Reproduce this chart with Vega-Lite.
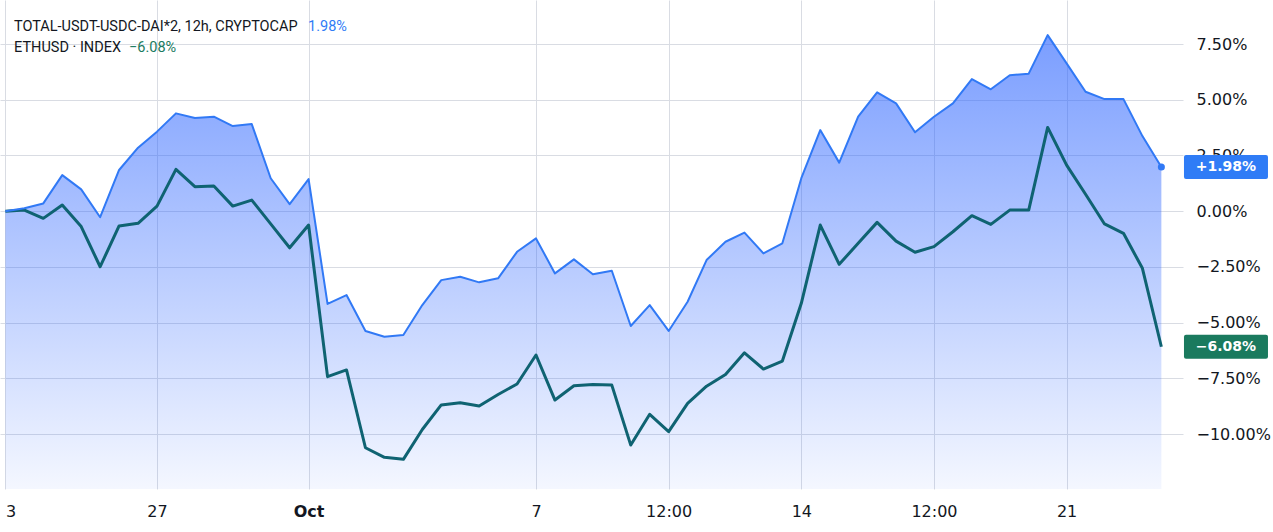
{
  "$schema": "https://vega.github.io/schema/vega-lite/v6.json",
  "width": 1183,
  "height": 489,
  "autosize": {"type": "none"},
  "padding": {"left": 0, "top": 0, "right": 90, "bottom": 43},
  "background": "white",
  "config": {"view": {"stroke": null}, "font": "DejaVu Sans"},
  "datasets": {
    "series": [
      {"t": "2023-09-23T00:00", "total": 0.0, "eth": 0.0},
      {"t": "2023-09-23T12:00", "total": 0.13, "eth": 0.05},
      {"t": "2023-09-24T00:00", "total": 0.35, "eth": -0.32},
      {"t": "2023-09-24T12:00", "total": 1.62, "eth": 0.28},
      {"t": "2023-09-25T00:00", "total": 0.98, "eth": -0.69},
      {"t": "2023-09-25T12:00", "total": -0.27, "eth": -2.49},
      {"t": "2023-09-26T00:00", "total": 1.85, "eth": -0.66},
      {"t": "2023-09-26T12:00", "total": 2.85, "eth": -0.54},
      {"t": "2023-09-27T00:00", "total": 3.57, "eth": 0.23},
      {"t": "2023-09-27T12:00", "total": 4.39, "eth": 1.88},
      {"t": "2023-09-28T00:00", "total": 4.18, "eth": 1.1},
      {"t": "2023-09-28T12:00", "total": 4.24, "eth": 1.13},
      {"t": "2023-09-29T00:00", "total": 3.82, "eth": 0.23},
      {"t": "2023-09-29T12:00", "total": 3.91, "eth": 0.5},
      {"t": "2023-09-30T00:00", "total": 1.48, "eth": -0.57},
      {"t": "2023-09-30T12:00", "total": 0.32, "eth": -1.64},
      {"t": "2023-10-01T00:00", "total": 1.44, "eth": -0.62},
      {"t": "2023-10-01T12:00", "total": -4.16, "eth": -7.42},
      {"t": "2023-10-02T00:00", "total": -3.76, "eth": -7.12},
      {"t": "2023-10-02T12:00", "total": -5.37, "eth": -10.61},
      {"t": "2023-10-03T00:00", "total": -5.63, "eth": -11.04},
      {"t": "2023-10-03T12:00", "total": -5.55, "eth": -11.13},
      {"t": "2023-10-04T00:00", "total": -4.21, "eth": -9.79},
      {"t": "2023-10-04T12:00", "total": -3.09, "eth": -8.69},
      {"t": "2023-10-05T00:00", "total": -2.94, "eth": -8.59},
      {"t": "2023-10-05T12:00", "total": -3.19, "eth": -8.74},
      {"t": "2023-10-06T00:00", "total": -3.01, "eth": -8.22},
      {"t": "2023-10-06T12:00", "total": -1.82, "eth": -7.75},
      {"t": "2023-10-07T00:00", "total": -1.22, "eth": -6.45},
      {"t": "2023-10-07T12:00", "total": -2.79, "eth": -8.47},
      {"t": "2023-10-08T00:00", "total": -2.16, "eth": -7.83},
      {"t": "2023-10-08T12:00", "total": -2.83, "eth": -7.77},
      {"t": "2023-10-09T00:00", "total": -2.67, "eth": -7.8},
      {"t": "2023-10-09T12:00", "total": -5.15, "eth": -10.49},
      {"t": "2023-10-10T00:00", "total": -4.21, "eth": -9.11},
      {"t": "2023-10-10T12:00", "total": -5.37, "eth": -9.89},
      {"t": "2023-10-11T00:00", "total": -4.06, "eth": -8.62},
      {"t": "2023-10-11T12:00", "total": -2.19, "eth": -7.85},
      {"t": "2023-10-12T00:00", "total": -1.37, "eth": -7.32},
      {"t": "2023-10-12T12:00", "total": -0.96, "eth": -6.35},
      {"t": "2023-10-13T00:00", "total": -1.89, "eth": -7.08},
      {"t": "2023-10-13T12:00", "total": -1.44, "eth": -6.72},
      {"t": "2023-10-14T00:00", "total": 1.48, "eth": -4.13},
      {"t": "2023-10-14T12:00", "total": 3.64, "eth": -0.62},
      {"t": "2023-10-15T00:00", "total": 2.18, "eth": -2.38},
      {"t": "2023-10-15T12:00", "total": 4.24, "eth": -1.44},
      {"t": "2023-10-16T00:00", "total": 5.33, "eth": -0.5},
      {"t": "2023-10-16T12:00", "total": 4.84, "eth": -1.34},
      {"t": "2023-10-17T00:00", "total": 3.54, "eth": -1.84},
      {"t": "2023-10-17T12:00", "total": 4.24, "eth": -1.59},
      {"t": "2023-10-18T00:00", "total": 4.84, "eth": -0.92},
      {"t": "2023-10-18T12:00", "total": 5.93, "eth": -0.2},
      {"t": "2023-10-19T00:00", "total": 5.47, "eth": -0.59},
      {"t": "2023-10-19T12:00", "total": 6.1, "eth": 0.05},
      {"t": "2023-10-20T00:00", "total": 6.17, "eth": 0.05},
      {"t": "2023-10-20T12:00", "total": 7.9, "eth": 3.76},
      {"t": "2023-10-21T00:00", "total": 6.63, "eth": 2.07},
      {"t": "2023-10-21T12:00", "total": 5.36, "eth": 0.76},
      {"t": "2023-10-22T00:00", "total": 5.03, "eth": -0.57},
      {"t": "2023-10-22T12:00", "total": 5.03, "eth": -0.99},
      {"t": "2023-10-23T00:00", "total": 3.37, "eth": -2.56},
      {"t": "2023-10-23T12:00", "total": 1.98, "eth": -6.08}
    ],
    "legendNames": [
      {"t": "2023-09-23T05:27", "v": 8.1, "label": "TOTAL-USDT-USDC-DAI*2, 12h, CRYPTOCAP"},
      {"t": "2023-09-23T05:27", "v": 7.156, "label": "ETHUSD · INDEX"}
    ],
    "legendValues": [
      {"t": "2023-09-30T23:38", "v": 8.1, "name": "TOTAL", "label": "1.98%"},
      {"t": "2023-09-26T06:18", "v": 7.156, "name": "ETH", "label": "−6.08%"}
    ],
    "tags": [
      {"name": "TOTAL", "v": 1.98, "label": "+1.98%"},
      {"name": "ETH", "v": -6.08, "label": "−6.08%"}
    ]
  },
  "layer": [
    {
      "data": {"name": "series"},
      "mark": {
        "type": "area",
        "color": {
          "gradient": "linear",
          "x1": 0, "y1": 0, "x2": 0, "y2": 1,
          "stops": [
            {"offset": 0, "color": "rgba(41,98,255,0.62)"},
            {"offset": 1, "color": "rgba(41,98,255,0.05)"}
          ]
        }
      },
      "encoding": {
        "x": {
          "field": "t", "type": "temporal",
          "scale": {
            "domain": [
              {"year": 2023, "month": 9, "date": 22, "hours": 20, "minutes": 35},
              {"year": 2023, "month": 10, "date": 24, "hours": 1, "minutes": 42}
            ]
          },
          "axis": {
            "title": null,
            "values": [
              {"year": 2023, "month": 9, "date": 23},
              {"year": 2023, "month": 9, "date": 27},
              {"year": 2023, "month": 10, "date": 1},
              {"year": 2023, "month": 10, "date": 7},
              {"year": 2023, "month": 10, "date": 10, "hours": 12},
              {"year": 2023, "month": 10, "date": 14},
              {"year": 2023, "month": 10, "date": 17, "hours": 12},
              {"year": 2023, "month": 10, "date": 21}
            ],
            "labelExpr": "hours(datum.value) == 12 ? '12:00' : (date(datum.value) == 1 ? 'Oct' : (date(datum.value) == 23 ? '3' : timeFormat(datum.value, '%-d')))",
            "labelFontWeight": {"condition": {"test": "date(datum.value) == 1 && hours(datum.value) == 0", "value": "bold"}, "value": "normal"},
            "labelAlign": {"condition": {"test": "date(datum.value) == 23", "value": "left"}, "value": "center"},
            "grid": true,
            "gridColor": "#d9dce3",
            "ticks": false,
            "domain": false,
            "labelFont": "DejaVu Sans",
            "labelFontSize": 16,
            "labelColor": "#131722",
            "labelPadding": 14,
            "labelFlush": false,
            "labelOverlap": false
          }
        },
        "y": {
          "field": "total", "type": "quantitative",
          "scale": {"domain": [-12.46, 9.475], "nice": false, "zero": false},
          "axis": {
            "title": null,
            "orient": "right",
            "values": [-10, -7.5, -5, -2.5, 0, 2.5, 5, 7.5],
            "format": ".2f",
            "labelExpr": "datum.label + '%'",
            "grid": true,
            "gridColor": "#d9dce3",
            "ticks": false,
            "domain": false,
            "labelAlign": "left",
            "labelPadding": 13,
            "labelFont": "DejaVu Sans",
            "labelFontSize": 16,
            "labelColor": "#131722"
          }
        },
        "y2": {"datum": -12.46}
      }
    },
    {
      "data": {"name": "series"},
      "mark": {"type": "line", "color": "#0f6372", "strokeWidth": 3, "strokeJoin": "round"},
      "encoding": {
        "x": {"field": "t", "type": "temporal"},
        "y": {"field": "eth", "type": "quantitative"}
      }
    },
    {
      "data": {"name": "series"},
      "mark": {"type": "line", "color": "#3179f5", "strokeWidth": 2, "strokeJoin": "round"},
      "encoding": {
        "x": {"field": "t", "type": "temporal"},
        "y": {"field": "total", "type": "quantitative"}
      }
    },
    {
      "data": {"name": "series"},
      "transform": [{"filter": "datum.total == 1.98 && datum.eth == -6.08"}],
      "mark": {"type": "point", "filled": true, "color": "#3179f5", "opacity": 1, "size": 50},
      "encoding": {
        "x": {"field": "t", "type": "temporal"},
        "y": {"field": "total", "type": "quantitative"}
      }
    },
    {
      "data": {"name": "legendNames"},
      "mark": {"type": "text", "align": "left", "baseline": "alphabetic", "font": "Roboto", "fontSize": 14.5, "color": "#131722"},
      "encoding": {
        "x": {"field": "t", "type": "temporal"},
        "y": {"field": "v", "type": "quantitative"},
        "text": {"field": "label"}
      }
    },
    {
      "data": {"name": "legendValues"},
      "mark": {"type": "text", "align": "left", "baseline": "alphabetic", "font": "Roboto", "fontSize": 14.5},
      "encoding": {
        "x": {"field": "t", "type": "temporal"},
        "y": {"field": "v", "type": "quantitative"},
        "text": {"field": "label"},
        "color": {"field": "name", "type": "nominal", "scale": {"domain": ["TOTAL", "ETH"], "range": ["#2f7cf6", "#1a7a5e"]}, "legend": null}
      }
    },
    {
      "data": {"name": "tags"},
      "mark": {"type": "point", "filled": true, "opacity": 1, "size": 7056, "shape": "M-0.952,-0.2857H0.952Q1,-0.2857,1,-0.2381V0.2381Q1,0.2857,0.952,0.2857H-0.952Q-1,0.2857,-1,0.2381V-0.2381Q-1,-0.2857,-0.952,-0.2857Z", "strokeWidth": 0},
      "encoding": {
        "x": {"datum": {"year": 2023, "month": 10, "date": 25, "hours": 4, "minutes": 55}, "type": "temporal"},
        "y": {"field": "v", "type": "quantitative"},
        "color": {"field": "name", "type": "nominal", "scale": {"domain": ["TOTAL", "ETH"], "range": ["#3179f5", "#0c6b57"]}, "legend": null}
      }
    },
    {
      "data": {"name": "tags"},
      "mark": {"type": "text", "align": "center", "baseline": "middle", "font": "DejaVu Sans", "fontSize": 14, "fontWeight": "bold", "color": "white"},
      "encoding": {
        "x": {"datum": {"year": 2023, "month": 10, "date": 25, "hours": 4, "minutes": 55}, "type": "temporal"},
        "y": {"field": "v", "type": "quantitative"},
        "text": {"field": "label"}
      }
    }
  ]
}
